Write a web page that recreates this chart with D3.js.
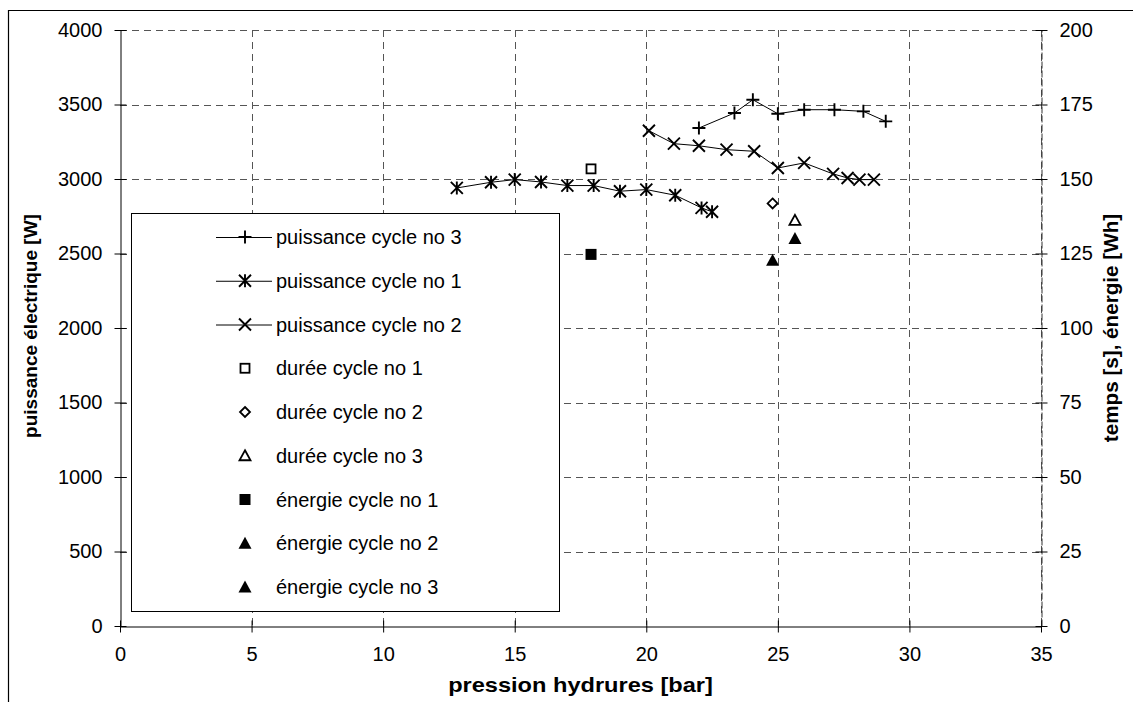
<!DOCTYPE html>
<html>
<head>
<meta charset="utf-8">
<script src="https://cdn.jsdelivr.net/npm/d3@7"></script>
<style>
  html, body { margin: 0; padding: 0; background: #fff; }
  text { font-family: "Liberation Sans", Arial, sans-serif; fill: #000; }
</style>
</head>
<body>
<svg id="chart" width="1133" height="702"></svg>
<script>
// ---- data ----
const xTicks = [0, 5, 10, 15, 20, 25, 30, 35];
const yLeftTicks = [0, 500, 1000, 1500, 2000, 2500, 3000, 3500, 4000];
const yRightTicks = [0, 25, 50, 75, 100, 125, 150, 175, 200];

const pressCycle1 = [12.8, 14.1, 15.0, 16.0, 17.0, 18.0, 19.0, 20.0, 21.1, 22.1, 22.5];
const puisCycle1  = [2940, 2978, 2996, 2980, 2956, 2956, 2918, 2929, 2891, 2806, 2780];
const pressCycle2 = [20.1, 21.05, 22.0, 23.05, 24.1, 25.0, 26.0, 27.1, 27.65, 28.1, 28.65];
const puisCycle2  = [3324, 3237, 3223, 3197, 3186, 3074, 3108, 3034, 3007, 2996, 2996];
const pressCycle3 = [22.0, 23.35, 24.05, 25.0, 26.0, 27.15, 28.25, 29.1];
const puisCycle3  = [3342, 3443, 3532, 3438, 3465, 3465, 3454, 3387];

const pressSingle = [17.9, 24.8, 25.65];          // cycle 1, 2, 3
const dureeCycles = [153.4, 141.8, 136.1];        // temps [s]
const energieCycles = [124.7, 122.7, 130.0];      // énergie [Wh]

const legendLabels = [
  "puissance cycle no 3", "puissance cycle no 1", "puissance cycle no 2",
  "durée cycle no 1", "durée cycle no 2", "durée cycle no 3",
  "énergie cycle no 1", "énergie cycle no 2", "énergie cycle no 3"
];
const legendMarkers = ["plus", "star", "cross", "squareOpen", "diamondOpen", "triangleOpen",
                       "squareFilled", "triangleFilled", "triangleFilled"];

// ---- layout ----
const svg = d3.select("#chart");
const L = 120, R = 1041, T = 30, B = 626;
const x = d3.scaleLinear().domain([0, 35]).range([L, R]);
const yL = d3.scaleLinear().domain([0, 4000]).range([B, T]);
const yR = d3.scaleLinear().domain([0, 200]).range([B, T]);
const fmt = d3.format("d");

// outer frame (partial)
svg.append("path").attr("d", `M8.5,702 V10.5 H1133`).attr("fill", "none")
  .attr("stroke", "#000").attr("stroke-width", 1.2);

// grid
const grid = svg.append("g").attr("stroke", "#555").attr("stroke-width", 1)
  .attr("stroke-dasharray", "7,5").attr("fill", "none");
xTicks.filter(d => d > 0).forEach(d => {
  grid.append("line").attr("x1", Math.round(x(d)) + 0.5).attr("x2", Math.round(x(d)) + 0.5)
    .attr("y1", T).attr("y2", B);
});
yLeftTicks.filter(d => d > 0).forEach(d => {
  grid.append("line").attr("y1", Math.round(yL(d)) + 0.5).attr("y2", Math.round(yL(d)) + 0.5)
    .attr("x1", L).attr("x2", R);
});

// axes
function styleAxis(g) {
  g.select(".domain").attr("stroke", "#000").attr("stroke-width", 1);
  g.selectAll(".tick line").attr("stroke", "#000");
  g.selectAll(".tick text").attr("font-size", "20px").attr("font-family", "Liberation Sans, Arial, sans-serif");
}
const axB = svg.append("g").attr("transform", `translate(0,${B + 0.5})`)
  .call(d3.axisBottom(x).tickValues(xTicks).tickFormat(fmt).tickSize(6).tickSizeOuter(0).tickPadding(14));
styleAxis(axB);
axB.selectAll(".tick line").attr("y1", -6);

const axL = svg.append("g").attr("transform", `translate(${L + 0.5},0)`)
  .call(d3.axisLeft(yL).tickValues(yLeftTicks).tickFormat(fmt).tickSize(6).tickSizeOuter(0).tickPadding(12));
styleAxis(axL);
axL.selectAll(".tick line").attr("x1", 6);

const axR = svg.append("g").attr("transform", `translate(${R + 0.5},0)`)
  .call(d3.axisRight(yR).tickValues(yRightTicks).tickFormat(fmt).tickSize(6).tickSizeOuter(0).tickPadding(12));
styleAxis(axR);
axR.selectAll(".tick line").attr("x1", -6);
axR.select(".domain").attr("stroke", "#333").attr("stroke-dasharray", "7,2");

// titles
svg.append("text").attr("transform", `translate(${(L + R) / 2},692) scale(1.18,1)`)
  .attr("text-anchor", "middle").attr("font-weight", "bold").attr("font-size", "20px")
  .text("pression hydrures [bar]");
svg.append("text").attr("transform", `translate(37,${(T + B) / 2 - 2}) rotate(-90)`)
  .attr("text-anchor", "middle").attr("font-weight", "bold").attr("font-size", "19px")
  .text("puissance électrique [W]");
svg.append("text").attr("transform", `translate(1118,${(T + B) / 2}) rotate(-90) scale(1.06,1)`)
  .attr("text-anchor", "middle").attr("font-weight", "bold").attr("font-size", "19.5px")
  .text("temps [s], énergie [Wh]");

// markers
function drawMarker(g, type, cx, cy) {
  const s = 6;
  const sw = 1.9;
  switch (type) {
    case "plus":
      g.append("path").attr("d", `M${cx - s - 0.5},${cy}H${cx + s + 0.5}M${cx},${cy - s - 0.5}V${cy + s + 0.5}`)
        .attr("stroke", "#000").attr("stroke-width", sw).attr("fill", "none"); break;
    case "cross":
      g.append("path").attr("d", `M${cx - s},${cy - s}L${cx + s},${cy + s}M${cx - s},${cy + s}L${cx + s},${cy - s}`)
        .attr("stroke", "#000").attr("stroke-width", sw).attr("fill", "none"); break;
    case "star":
      g.append("path").attr("d", `M${cx - s},${cy - s}L${cx + s},${cy + s}M${cx - s},${cy + s}L${cx + s},${cy - s}M${cx},${cy - s - 0.5}V${cy + s + 0.5}`)
        .attr("stroke", "#000").attr("stroke-width", sw).attr("fill", "none"); break;
    case "squareOpen":
      g.append("rect").attr("x", cx - 4.5).attr("y", cy - 4.5).attr("width", 9).attr("height", 9)
        .attr("fill", "#fff").attr("stroke", "#000").attr("stroke-width", 1.8); break;
    case "squareFilled":
      g.append("rect").attr("x", cx - 5.5).attr("y", cy - 5.5).attr("width", 11).attr("height", 11)
        .attr("fill", "#000"); break;
    case "diamondOpen":
      g.append("path").attr("d", `M${cx},${cy - 5}L${cx + 5},${cy}L${cx},${cy + 5}L${cx - 5},${cy}Z`)
        .attr("fill", "#fff").attr("stroke", "#000").attr("stroke-width", 1.8); break;
    case "triangleOpen":
      g.append("path").attr("d", `M${cx},${cy - 5.5}L${cx + 5.5},${cy + 4.5}L${cx - 5.5},${cy + 4.5}Z`)
        .attr("fill", "#fff").attr("stroke", "#000").attr("stroke-width", 1.8); break;
    case "triangleFilled":
      g.append("path").attr("d", `M${cx},${cy - 6.5}L${cx + 6.5},${cy + 5.5}L${cx - 6.5},${cy + 5.5}Z`)
        .attr("fill", "#000"); break;
  }
}

// series lines
const series = [
  { xs: pressCycle3, ys: puisCycle3, m: "plus" },
  { xs: pressCycle1, ys: puisCycle1, m: "star" },
  { xs: pressCycle2, ys: puisCycle2, m: "cross" }
];
const line = d3.line().x(d => x(d[0])).y(d => yL(d[1]));
const gS = svg.append("g");
series.forEach(s => {
  const pts = s.xs.map((v, i) => [v, s.ys[i]]);
  gS.append("path").attr("d", line(pts)).attr("fill", "none").attr("stroke", "#000").attr("stroke-width", 1);
});
series.forEach(s => {
  s.xs.forEach((v, i) => drawMarker(gS, s.m, x(v), yL(s.ys[i])));
});
const dureeMarkers = ["squareOpen", "diamondOpen", "triangleOpen"];
const energieMarkers = ["squareFilled", "triangleFilled", "triangleFilled"];
pressSingle.forEach((p, i) => {
  drawMarker(gS, dureeMarkers[i], x(p), yR(dureeCycles[i]));
  drawMarker(gS, energieMarkers[i], x(p), yR(energieCycles[i]));
});

// legend
const lg = svg.append("g");
lg.append("rect").attr("x", 131.5).attr("y", 213.5).attr("width", 428).attr("height", 398)
  .attr("fill", "#fff").attr("stroke", "#000").attr("stroke-width", 1);
const rowY0 = 237, rowDy = 43.75;
legendLabels.forEach((lab, i) => {
  const cy = rowY0 + i * rowDy;
  if (i < 3) {
    lg.append("line").attr("x1", 216).attr("x2", 272).attr("y1", cy + 0.5).attr("y2", cy + 0.5)
      .attr("stroke", "#000").attr("stroke-width", 1);
  }
  drawMarker(lg, legendMarkers[i], 245, cy);
  lg.append("text").attr("x", 276).attr("y", cy).attr("dy", "0.35em")
    .attr("font-size", "20px").text(lab);
});
</script>
</body>
</html>
